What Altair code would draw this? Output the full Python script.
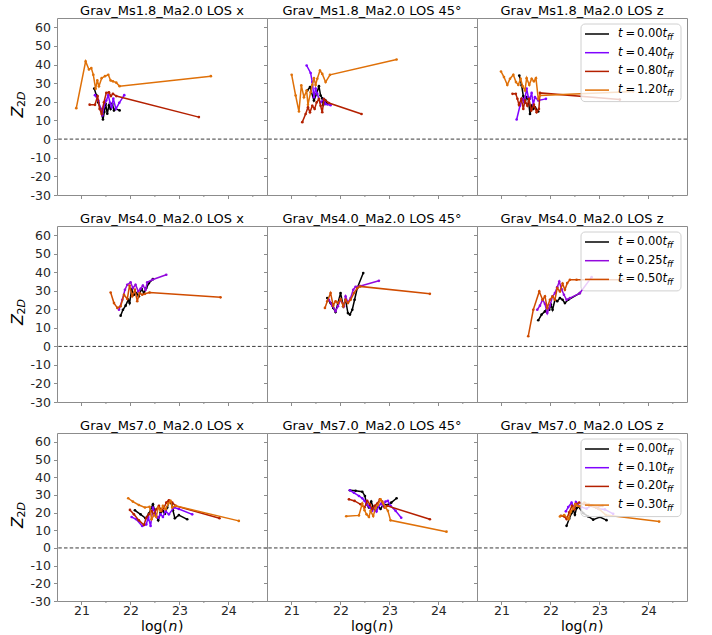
import altair as alt
import pandas as pd

FONT = "DejaVu Sans"
SPINE = "#8c8c8c"

# ---------------- axes / labels ----------------
X_DOMAIN = [20.5, 24.79]
Y_DOMAIN = [-30, 65]
X_MAJOR = [21, 22, 23, 24]
X_MINOR = [21.5, 22.5, 23.5, 24.5]
Y_TICKS = [-30, -20, -10, 0, 10, 20, 30, 40, 50, 60]
ZERO_LINE = [0]

MACH_S = ["1.8", "4.0", "7.0"]
LOS = ["x", "45°", "z"]
TIMES_MS18 = ["0.00", "0.40", "0.80", "1.20"]
TIMES_MS40 = ["0.00", "0.25", "0.50"]
TIMES_MS70 = ["0.00", "0.10", "0.20", "0.30"]
COLORS_4 = ["#000000", "#8004ff", "#b42000", "#df7008"]
COLORS_3 = ["#000000", "#9309dd", "#d04c00"]

# ---------------- Ms1.8, LOS x ----------------
ms18_x_t0_logn = [21.262, 21.303, 21.344, 21.391, 21.439, 21.466, 21.493, 21.527, 21.561, 21.595, 21.630, 21.664, 21.698, 21.779]
ms18_x_t0_z = [27.1, 23.6, 19.6, 16.2, 10.5, 14.5, 19.0, 13.6, 18.1, 16.2, 19.0, 15.4, 16.2, 15.4]
ms18_x_t1_logn = [21.276, 21.344, 21.391, 21.426, 21.459, 21.507, 21.548, 21.582, 21.616, 21.650, 21.704, 21.772, 21.874]
ms18_x_t1_z = [23.6, 20.7, 16.2, 12.7, 17.6, 20.7, 23.6, 19.5, 17.2, 21.7, 16.2, 19.5, 23.6]
ms18_x_t2_logn = [21.167, 21.276, 21.330, 21.371, 21.412, 21.459, 21.507, 21.561, 21.602, 21.643, 21.711, 23.398]
ms18_x_t2_z = [18.5, 18.4, 23.1, 16.2, 13.5, 19.8, 24.8, 25.1, 23.1, 24.3, 23.1, 11.8]
ms18_x_t3_logn = [20.894, 21.085, 21.153, 21.201, 21.242, 21.289, 21.323, 21.357, 21.412, 21.480, 21.548, 21.595, 21.643, 21.711, 21.779, 23.643]
ms18_x_t3_z = [16.6, 41.7, 37.4, 38.1, 34.5, 27.0, 31.5, 28.4, 32.7, 33.8, 34.5, 31.5, 31.0, 30.3, 28.4, 33.8]

# ---------------- Ms1.8, LOS 45 ----------------
ms18_45_t0_logn = [21.323, 21.378, 21.459, 21.514, 21.561, 21.595, 21.629, 21.650, 21.697, 21.731]
ms18_45_t0_z = [26.1, 27.9, 20.7, 24.4, 28.4, 23.4, 21.9, 18.4, 20.7, 18.8]
ms18_45_t1_logn = [21.310, 21.391, 21.425, 21.459, 21.493, 21.527, 21.561, 21.595, 21.663, 21.697, 21.799]
ms18_45_t1_z = [39.5, 35.5, 30.6, 22.5, 27.1, 24.4, 21.5, 19.7, 21.5, 18.8, 18.2]
ms18_45_t2_logn = [21.221, 21.289, 21.337, 21.378, 21.425, 21.473, 21.514, 21.561, 21.595, 21.629, 21.663, 21.765, 22.432]
ms18_45_t2_z = [9.1, 13.5, 17.1, 14.4, 17.9, 16.2, 19.7, 21.5, 17.9, 14.4, 21.5, 19.4, 13.5]
ms18_45_t3_logn = [21.004, 21.085, 21.153, 21.201, 21.255, 21.310, 21.337, 21.391, 21.425, 21.459, 21.493, 21.527, 21.582, 21.629, 21.697, 21.786, 23.147]
ms18_45_t3_z = [34.5, 23.4, 14.8, 28.8, 22.5, 26.1, 18.4, 25.2, 29.1, 32.7, 29.1, 32.4, 36.8, 35.0, 30.6, 34.5, 42.7]

# ---------------- Ms1.8, LOS z ----------------
ms18_z_t0_logn = [21.364, 21.412, 21.446, 21.480, 21.514, 21.548, 21.582, 21.616, 21.650, 21.684, 21.752]
ms18_z_t0_z = [34.1, 28.8, 23.1, 19.7, 22.5, 21.6, 13.5, 17.9, 16.2, 17.1, 14.8]
ms18_z_t1_logn = [21.310, 21.378, 21.432, 21.467, 21.514, 21.548, 21.582, 21.616, 21.650, 21.684, 21.752, 21.908]
ms18_z_t1_z = [10.5, 17.9, 21.6, 19.7, 27.1, 22.5, 21.6, 24.8, 18.4, 22.5, 20.7, 21.6]
ms18_z_t2_logn = [21.225, 21.292, 21.326, 21.357, 21.405, 21.446, 21.480, 21.528, 21.562, 21.609, 21.663, 21.718, 21.765, 21.786, 23.418]
ms18_z_t2_z = [24.3, 24.3, 21.6, 18.4, 21.6, 16.2, 20.7, 17.9, 21.6, 15.4, 18.4, 14.4, 16.2, 24.8, 21.2]
ms18_z_t3_logn = [20.990, 21.051, 21.119, 21.174, 21.242, 21.296, 21.344, 21.391, 21.432, 21.480, 21.514, 21.568, 21.616, 21.663, 21.704, 21.752, 21.786, 23.690]
ms18_z_t3_z = [36.3, 33.3, 29.1, 32.4, 34.5, 30.6, 29.1, 32.4, 28.4, 26.1, 32.7, 29.1, 32.4, 31.0, 32.7, 21.6, 23.4, 25.5]

# ---------------- Ms4.0, LOS x ----------------
ms40_x_t0_logn = [21.800, 21.847, 21.902, 21.956, 21.983, 22.024, 22.072, 22.119, 22.173, 22.228, 22.276, 22.324, 22.378, 22.459]
ms40_x_t0_z = [16.6, 19.8, 22.0, 25.2, 23.4, 30.6, 27.9, 28.8, 27.1, 31.1, 28.8, 31.5, 34.2, 36.3]
ms40_x_t1_logn = [21.766, 21.834, 21.888, 21.935, 22.003, 22.051, 22.105, 22.160, 22.207, 22.255, 22.310, 22.344, 22.446, 22.732]
ms40_x_t1_z = [19.8, 25.2, 30.6, 33.3, 34.6, 31.5, 33.3, 29.7, 31.1, 32.9, 30.6, 34.6, 36.0, 38.7]
ms40_x_t2_logn = [21.596, 21.664, 21.732, 21.800, 21.868, 21.936, 21.983, 22.037, 22.092, 22.139, 22.187, 22.241, 22.296, 22.391, 23.840]
ms40_x_t2_z = [29.1, 23.4, 20.8, 21.7, 27.9, 25.6, 32.9, 27.1, 30.6, 24.4, 28.8, 27.9, 28.4, 29.1, 26.5]

# ---------------- Ms4.0, LOS 45 ----------------
ms40_45_t0_logn = [21.731, 21.799, 21.853, 21.901, 21.949, 22.003, 22.058, 22.105, 22.153, 22.194, 22.242, 22.289, 22.344, 22.466]
ms40_45_t0_z = [26.1, 23.4, 20.8, 18.6, 23.4, 28.8, 21.7, 25.2, 18.0, 17.2, 19.8, 25.2, 31.5, 39.6]
ms40_45_t1_logn = [21.765, 21.833, 21.901, 21.949, 22.003, 22.071, 22.105, 22.153, 22.208, 22.262, 22.310, 22.412, 22.786]
ms40_45_t1_z = [25.2, 22.0, 19.0, 21.7, 25.2, 21.7, 27.0, 23.8, 26.1, 30.6, 32.2, 32.6, 35.4]
ms40_45_t2_logn = [21.684, 21.731, 21.799, 21.853, 21.901, 21.949, 22.003, 22.058, 22.105, 22.153, 22.208, 22.276, 22.344, 22.398, 23.827]
ms40_45_t2_z = [20.8, 24.4, 28.8, 22.0, 24.4, 23.4, 25.6, 21.7, 25.2, 23.4, 25.2, 28.8, 31.5, 32.4, 28.4]

# ---------------- Ms4.0, LOS z ----------------
ms40_z_t0_logn = [21.751, 21.820, 21.888, 21.935, 21.976, 22.010, 22.044, 22.092, 22.139, 22.194, 22.248, 22.296, 22.364, 22.602]
ms40_z_t0_z = [14.1, 17.2, 18.9, 20.8, 19.8, 22.6, 19.8, 25.2, 24.4, 26.1, 25.2, 23.4, 25.2, 28.8]
ms40_z_t1_logn = [21.731, 21.786, 21.840, 21.888, 21.935, 21.990, 22.044, 22.092, 22.139, 22.180, 22.228, 22.276, 22.330, 22.398, 22.602, 22.841]
ms40_z_t1_z = [19.8, 22.0, 25.2, 23.0, 18.0, 22.0, 27.0, 28.8, 32.0, 35.0, 30.9, 27.9, 25.2, 26.1, 28.8, 37.4]
ms40_z_t2_logn = [21.547, 21.650, 21.772, 21.840, 21.888, 21.935, 21.990, 22.044, 22.092, 22.139, 22.194, 22.248, 22.296, 22.344, 22.398, 22.534, 23.486]
ms40_z_t2_z = [5.5, 19.8, 29.7, 25.2, 27.0, 20.8, 25.2, 27.0, 25.2, 31.5, 29.7, 33.9, 30.6, 34.2, 36.0, 36.0, 36.0]

# ---------------- Ms7.0, LOS x ----------------
ms70_x_t0_logn = [22.092, 22.207, 22.310, 22.378, 22.460, 22.514, 22.568, 22.616, 22.664, 22.705, 22.752, 22.786, 22.841, 22.868, 22.908, 22.990, 23.160]
ms70_x_t0_z = [21.3, 19.0, 16.8, 19.4, 24.7, 19.0, 15.6, 20.0, 20.9, 19.4, 22.9, 26.2, 25.1, 21.3, 16.8, 18.6, 16.2]
ms70_x_t1_logn = [22.024, 22.119, 22.241, 22.324, 22.364, 22.412, 22.460, 22.514, 22.568, 22.616, 22.664, 22.718, 22.786, 22.888, 22.990, 23.262]
ms70_x_t1_z = [17.5, 16.2, 12.4, 13.3, 17.5, 12.4, 22.9, 19.0, 17.1, 19.0, 17.5, 20.9, 19.0, 22.9, 22.0, 19.0]
ms70_x_t2_logn = [21.990, 22.071, 22.173, 22.276, 22.324, 22.378, 22.432, 22.480, 22.528, 22.582, 22.637, 22.684, 22.732, 22.786, 22.854, 22.922, 23.820]
ms70_x_t2_z = [21.5, 19.0, 15.6, 13.0, 17.1, 19.0, 20.9, 19.0, 21.9, 23.8, 20.9, 22.7, 25.6, 27.0, 25.6, 23.8, 16.8]
ms70_x_t3_logn = [21.955, 22.050, 22.173, 22.296, 22.391, 22.432, 22.480, 22.528, 22.568, 22.616, 22.664, 22.718, 22.773, 22.820, 22.854, 22.922, 24.214]
ms70_x_t3_z = [28.1, 26.2, 24.3, 22.9, 23.3, 16.2, 18.6, 17.5, 22.9, 21.0, 23.8, 21.9, 25.1, 26.6, 22.9, 23.8, 15.3]

# ---------------- Ms7.0, LOS 45 ----------------
ms70_45_t0_logn = [22.194, 22.310, 22.446, 22.500, 22.534, 22.582, 22.629, 22.670, 22.718, 22.766, 22.820, 22.874, 22.956, 23.038, 23.147]
ms70_45_t0_z = [32.6, 32.3, 31.8, 29.4, 24.7, 22.9, 26.2, 22.9, 21.3, 23.8, 22.0, 24.7, 24.3, 25.6, 28.1]
ms70_45_t1_logn = [22.194, 22.276, 22.378, 22.446, 22.493, 22.548, 22.602, 22.650, 22.697, 22.738, 22.786, 22.833, 22.874, 22.922, 22.970, 23.024, 23.126, 23.242]
ms70_45_t1_z = [32.6, 31.2, 29.4, 28.1, 26.6, 24.3, 22.9, 21.0, 23.3, 20.6, 23.8, 25.1, 23.8, 26.2, 26.6, 23.8, 21.0, 17.1]
ms70_45_t2_logn = [22.174, 22.289, 22.412, 22.493, 22.548, 22.602, 22.650, 22.697, 22.752, 22.806, 22.854, 22.902, 22.956, 23.827]
ms70_45_t2_z = [27.5, 26.6, 24.7, 22.9, 26.6, 24.7, 22.0, 23.8, 25.1, 27.5, 26.2, 22.9, 23.8, 16.2]
ms70_45_t3_logn = [22.119, 22.378, 22.446, 22.493, 22.534, 22.582, 22.616, 22.670, 22.718, 22.766, 22.820, 22.874, 22.922, 22.970, 23.024, 24.167]
ms70_45_t3_z = [17.9, 18.4, 25.1, 21.3, 19.0, 17.5, 21.0, 18.0, 22.5, 24.3, 27.5, 25.1, 22.9, 21.0, 15.6, 9.2]

# ---------------- Ms7.0, LOS z ----------------
ms70_z_t0_logn = [22.330, 22.384, 22.432, 22.466, 22.500, 22.534, 22.568, 22.670, 22.772, 22.874, 23.010, 23.146]
ms70_z_t0_z = [12.5, 16.5, 19.7, 21.6, 18.8, 22.5, 23.5, 19.7, 17.8, 16.0, 17.5, 15.7]
ms70_z_t1_logn = [22.316, 22.364, 22.432, 22.480, 22.521, 22.568, 22.636, 22.738, 22.840, 22.976, 23.112, 23.282]
ms70_z_t1_z = [20.7, 23.1, 25.6, 23.1, 26.0, 24.1, 23.1, 22.2, 24.1, 22.2, 21.8, 19.3]
ms70_z_t2_logn = [22.214, 22.282, 22.330, 22.384, 22.439, 22.487, 22.521, 22.589, 22.691, 22.793, 22.929, 23.065]
ms70_z_t2_z = [18.2, 17.8, 16.3, 20.1, 23.8, 21.9, 24.8, 25.7, 24.8, 23.8, 22.9, 23.8]
ms70_z_t3_logn = [22.194, 22.282, 22.371, 22.418, 22.466, 22.507, 22.555, 22.602, 22.691, 22.779, 22.874, 22.997, 23.133, 24.221]
ms70_z_t3_z = [17.8, 18.6, 16.3, 20.5, 22.4, 24.8, 23.8, 23.5, 25.7, 24.8, 23.8, 21.9, 18.6, 14.9]

ROWS = [
    (TIMES_MS18, COLORS_4, [
        [(ms18_x_t0_logn, ms18_x_t0_z), (ms18_x_t1_logn, ms18_x_t1_z), (ms18_x_t2_logn, ms18_x_t2_z), (ms18_x_t3_logn, ms18_x_t3_z)],
        [(ms18_45_t0_logn, ms18_45_t0_z), (ms18_45_t1_logn, ms18_45_t1_z), (ms18_45_t2_logn, ms18_45_t2_z), (ms18_45_t3_logn, ms18_45_t3_z)],
        [(ms18_z_t0_logn, ms18_z_t0_z), (ms18_z_t1_logn, ms18_z_t1_z), (ms18_z_t2_logn, ms18_z_t2_z), (ms18_z_t3_logn, ms18_z_t3_z)],
    ]),
    (TIMES_MS40, COLORS_3, [
        [(ms40_x_t0_logn, ms40_x_t0_z), (ms40_x_t1_logn, ms40_x_t1_z), (ms40_x_t2_logn, ms40_x_t2_z)],
        [(ms40_45_t0_logn, ms40_45_t0_z), (ms40_45_t1_logn, ms40_45_t1_z), (ms40_45_t2_logn, ms40_45_t2_z)],
        [(ms40_z_t0_logn, ms40_z_t0_z), (ms40_z_t1_logn, ms40_z_t1_z), (ms40_z_t2_logn, ms40_z_t2_z)],
    ]),
    (TIMES_MS70, COLORS_4, [
        [(ms70_x_t0_logn, ms70_x_t0_z), (ms70_x_t1_logn, ms70_x_t1_z), (ms70_x_t2_logn, ms70_x_t2_z), (ms70_x_t3_logn, ms70_x_t3_z)],
        [(ms70_45_t0_logn, ms70_45_t0_z), (ms70_45_t1_logn, ms70_45_t1_z), (ms70_45_t2_logn, ms70_45_t2_z), (ms70_45_t3_logn, ms70_45_t3_z)],
        [(ms70_z_t0_logn, ms70_z_t0_z), (ms70_z_t1_logn, ms70_z_t1_z), (ms70_z_t2_logn, ms70_z_t2_z), (ms70_z_t3_logn, ms70_z_t3_z)],
    ]),
]

W = 210
HEIGHTS = [177, 176, 168]


def one():
    return alt.Chart(pd.DataFrame({"k": [0]}))


def panel(r, c):
    times, colors, panels = ROWS[r]
    H = HEIGHTS[r]
    xenc = alt.X("logn:Q", scale=alt.Scale(domain=X_DOMAIN, nice=False, zero=False),
                 axis=alt.Axis(values=X_MAJOR, labels=(r == 2), title=None, grid=False, domain=False,
                               tickColor=SPINE, tickSize=3.5, labelFont=FONT, labelFontSize=12.5,
                               labelColor="#262626", labelPadding=0, labelOverlap=False, labelFlush=False,
                               labelExpr="datum.value + ''"))
    yenc = alt.Y("z:Q", scale=alt.Scale(domain=Y_DOMAIN, nice=False, zero=False),
                 axis=alt.Axis(values=Y_TICKS, labels=(c == 0), title=None, grid=False, domain=False,
                               tickColor=SPINE, tickSize=3.5, labelFont=FONT, labelFontSize=12.5,
                               labelColor="#262626", labelPadding=3, labelOverlap=False, labelFlush=False,
                               labelExpr="datum.value + ''"))
    layers = []
    layers.append(alt.Chart(pd.DataFrame({"z": ZERO_LINE})).mark_rule(
        color="#3a3a3a", strokeWidth=1, strokeDash=[3.5, 2.2]).encode(y=yenc))
    layers.append(alt.Chart(pd.DataFrame({"logn": X_MINOR})).mark_rule(
        color=SPINE, strokeWidth=1).encode(x=xenc, y=alt.value(H), y2=alt.value(H + 2)))
    for (xs, ys), col in zip(panels[c], colors):
        df = pd.DataFrame({"logn": xs, "z": ys, "i": list(range(len(xs)))})
        base = alt.Chart(df).encode(x=xenc, y=yenc, order=alt.Order("i:Q"))
        layers.append(base.mark_line(color=col, strokeWidth=1.5))
        layers.append(base.mark_circle(color=col, size=7, opacity=1))
    if c == 2:
        n = len(times)
        step = 18.7
        layers.append(one().mark_rect(cornerRadius=4, fill="white", fillOpacity=0.8,
                                      stroke="#d0d0d0", strokeWidth=1).encode(
            x=alt.value(104), x2=alt.value(204), y=alt.value(6), y2=alt.value(16 + (n - 1) * step + 11.5)))
        for i, (t, col) in enumerate(zip(times, colors)):
            yy = 16 + i * step
            src = alt.Chart(pd.DataFrame({"t": [t]}))
            layers.append(src.mark_rule(color=col, strokeWidth=1.5).encode(
                x=alt.value(108), x2=alt.value(132), y=alt.value(yy)))
            tx = dict(font=FONT, fontSize=11.5, baseline="middle", align="left", color="black")
            layers.append(src.mark_text(text="t", fontStyle="italic", **tx).encode(
                x=alt.value(141), y=alt.value(yy)))
            layers.append(src.mark_text(text="=", **tx).encode(x=alt.value(148.5), y=alt.value(yy)))
            layers.append(src.mark_text(**tx).encode(text="t:N", x=alt.value(160), y=alt.value(yy)))
            layers.append(src.mark_text(text="t", fontStyle="italic", **tx).encode(
                x=alt.value(185.6), y=alt.value(yy)))
            tx2 = dict(tx)
            tx2["fontSize"] = 8.5
            layers.append(src.mark_text(text="ff", fontStyle="italic", **tx2).encode(
                x=alt.value(190), y=alt.value(yy + 3)))
    if c == 0:
        zt = dict(font=FONT, angle=270, align="left", baseline="middle", color="black")
        layers.append(one().mark_text(text="Z", fontStyle="italic", fontSize=16, **zt).encode(
            x=alt.value(-39), y=alt.value(H / 2 + 11)))
        layers.append(one().mark_text(text="2", fontSize=11, **zt).encode(
            x=alt.value(-35), y=alt.value(H / 2 + 0.5)))
        layers.append(one().mark_text(text="D", fontStyle="italic", fontSize=11, **zt).encode(
            x=alt.value(-35), y=alt.value(H / 2 - 6.5)))
    if r == 2:
        lt = dict(font=FONT, fontSize=14, align="left", baseline="middle", color="black")
        layers.append(one().mark_text(text="log(", **lt).encode(x=alt.value(84), y=alt.value(H + 25.5)))
        layers.append(one().mark_text(text="n", fontStyle="italic", **lt).encode(x=alt.value(111.5), y=alt.value(H + 25.5)))
        layers.append(one().mark_text(text=")", **lt).encode(x=alt.value(121), y=alt.value(H + 25.5)))
    title = "Grav_Ms%s_Ma2.0 LOS %s" % (MACH_S[r], LOS[c])
    return alt.layer(*layers).properties(
        width=W, height=H,
        title=alt.TitleParams(text=title, font=FONT, fontSize=13, fontWeight="normal",
                              color="black", offset=0, anchor="middle"))


rows = [alt.hconcat(*[panel(r, c) for c in range(3)], spacing=0, bounds="flush") for r in range(3)]
chart = alt.vconcat(*rows, spacing=10).properties(
    padding={"left": 9, "top": 4, "right": 5, "bottom": 1}, background="white"
).configure_view(stroke=SPINE, strokeWidth=1)

chart.save("out.html", embed_options={"renderer": "svg", "actions": False})
